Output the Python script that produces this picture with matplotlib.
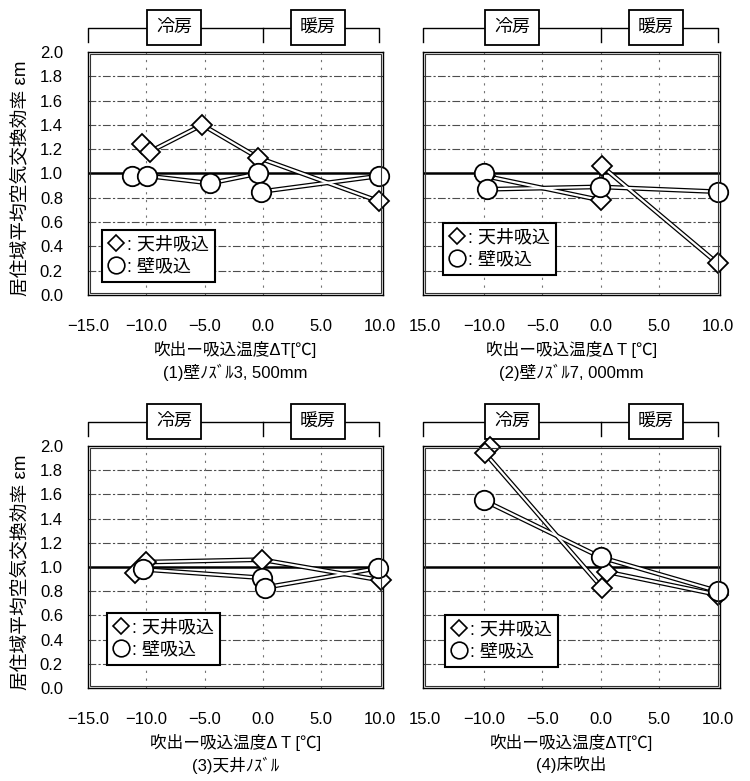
import matplotlib
matplotlib.use("Agg")
import matplotlib.pyplot as plt
from matplotlib.lines import Line2D
from matplotlib.patches import Rectangle
import matplotlib.transforms as mtransforms

plt.rcParams['font.family'] = ['Liberation Sans', 'Noto Sans CJK JP']

# Values (x = ΔT [°C], y = εm)
p1DiaX = [-10.4, -9.7, -5.2, -0.4, 10.0]
p1DiaY = [1.24, 1.18, 1.40, 1.13, 0.77]
p1CirX = [-11.2, -9.9, -4.5, -0.4, -0.2, 10.0]
p1CirY = [0.98, 0.98, 0.92, 1.00, 0.85, 0.98]

p2DiaX = [-9.9, 0.0, 0.1, 10.0]
p2DiaY = [0.98, 0.78, 1.06, 0.26]
p2CirX = [-10.0, -9.7, -0.1, 10.0]
p2CirY = [1.00, 0.87, 0.89, 0.85]

p3DiaX = [-11.0, -10.0, -0.1, 10.1]
p3DiaY = [0.95, 1.04, 1.06, 0.89]
p3CirX = [-10.3, -0.1, 0.2, 9.9]
p3CirY = [0.98, 0.91, 0.83, 0.99]

p4DiaX = [-9.5, -9.9, 0.1, 0.5, 10.0]
p4DiaY = [1.99, 1.94, 0.83, 0.96, 0.77]
p4CirX = [-10.0, 0.0, 10.0]
p4CirY = [1.55, 1.08, 0.80]

xTicks = [-15, -10, -5, 0, 5, 10]
xTickLabelsLeft = ["\u221215.0", "\u221210.0", "\u22125.0", "0.0", "5.0", "10.0"]
xTickLabelsRight = ["15.0", "\u221210.0", "\u22125.0", "0.0", "5.0", "10.0"]
yTicks = [0.0, 0.2, 0.4, 0.6, 0.8, 1.0, 1.2, 1.4, 1.6, 1.8, 2.0]

xLabels = ["吹出ー吸込温度ΔT[℃]", "吹出ー吸込温度Δ T [℃]",
           "吹出ー吸込温度Δ T [℃]", "吹出ー吸込温度ΔT[℃]"]
captions = ["(1)壁ﾉｽﾞﾙ3, 500mm", "(2)壁ﾉｽﾞﾙ7, 000mm", "(3)天井ﾉｽﾞﾙ", "(4)床吹出"]
legendLabels = [": 天井吸込", ": 壁吸込"]
modeLabels = ["冷房", "暖房"]
yLabel = "居住域平均空気交換効率 εm"

fig = plt.figure(figsize=(7.5, 7.81), dpi=100)

rects = [
    [0.1173, 0.6223, 0.3933, 0.3111],
    [0.5640, 0.6223, 0.3960, 0.3111],
    [0.1173, 0.1191, 0.3933, 0.3100],
    [0.5640, 0.1191, 0.3960, 0.3100],
]
xlims = [(-15, 10.3), (-15.2, 10.2), (-15, 10.3), (-15.2, 10.2)]
legendAnchors = [(0.047, 0.053), (0.067, 0.082), (0.064, 0.095), (0.074, 0.087)]

data = [
    (p1DiaX, p1DiaY, p1CirX, p1CirY),
    (p2DiaX, p2DiaY, p2CirX, p2CirY),
    (p3DiaX, p3DiaY, p3CirX, p3CirY),
    (p4DiaX, p4DiaY, p4CirX, p4CirY),
]


def doubleLine(ax, x, y):
    # scanned chart draws hollow "double" connecting lines
    ax.plot(x, y, color="black", linewidth=3.4, zorder=3, solid_capstyle="round")
    ax.plot(x, y, color="white", linewidth=1.6, zorder=4, solid_capstyle="round")


for i, rect in enumerate(rects):
    ax = fig.add_axes(rect)
    dx, dy, cx, cy = data[i]
    isLeft = i % 2 == 0

    ax.set_xlim(*xlims[i])
    ax.set_ylim(0, 2.0)

    # grid: dashed every 0.2, solid reference at 1.0
    for yv in yTicks[1:-1]:
        if abs(yv - 1.0) < 1e-9:
            ax.axhline(yv, color="black", linewidth=1.8, zorder=1)
        else:
            ax.axhline(yv, color="0.3", linewidth=0.8, linestyle=(0, (7, 2, 2, 2)), zorder=1)
    for xv in [-10, -5, 0, 5]:
        ax.axvline(xv, color="0.45", linewidth=0.8, linestyle=(0, (2, 5)), zorder=1)

    doubleLine(ax, dx, dy)
    doubleLine(ax, cx, cy)
    ax.plot(dx, dy, linestyle="none", marker="D", markersize=10, markerfacecolor="white",
            markeredgecolor="black", markeredgewidth=1.3, zorder=5, clip_on=False)
    ax.plot(cx, cy, linestyle="none", marker="o", markersize=14, markerfacecolor="white",
            markeredgecolor="black", markeredgewidth=1.3, zorder=6, clip_on=False)

    ax.set_xticks(xTicks)
    ax.set_xticklabels(xTickLabelsLeft if isLeft else xTickLabelsRight)
    ax.tick_params(axis="x", length=0, pad=17, labelsize=12)
    ax.set_yticks(yTicks)
    if isLeft:
        ax.set_yticklabels([f"{v:.1f}" for v in yTicks])
        ax.tick_params(axis="y", length=0, pad=18, labelsize=12)
        ax.set_ylabel(yLabel, fontsize=13.5, labelpad=2)
        ax.yaxis.set_label_coords(-0.2, 0.48)
    else:
        ax.tick_params(axis="y", length=0, labelleft=False)

    for sp in ax.spines.values():
        sp.set_linewidth(1.0)
        sp.set_color("black")
    # inner frame line (double border in the scan)
    ax.add_patch(Rectangle((0.008, 0.010), 0.984, 0.980, transform=ax.transAxes,
                           fill=False, edgecolor="0.2", linewidth=0.8, zorder=7))

    # x label and caption below
    ax.annotate(xLabels[i], xy=(0.5, 0), xycoords="axes fraction", xytext=(0, -55),
                textcoords="offset pixels", ha="center", va="center", fontsize=12)
    ax.annotate(captions[i], xy=(0.5, 0), xycoords="axes fraction", xytext=(0, -77),
                textcoords="offset pixels", ha="center", va="center", fontsize=12)

    # cooling / heating bracket on top
    trans = mtransforms.blended_transform_factory(ax.transData, ax.transAxes)
    left = xlims[i][0]
    ax.plot([left, left, 10, 10], [1.04, 1.099, 1.099, 1.04], color="black",
            linewidth=1.0, transform=trans, clip_on=False)
    ax.plot([0, 0], [1.099, 1.04], color="black", linewidth=1.0, transform=trans, clip_on=False)
    for lbl, xc in zip(modeLabels, [-7.6, 4.7]):
        ax.text(xc, 1.099, lbl, transform=trans, ha="center", va="center", fontsize=13,
                bbox=dict(boxstyle="square,pad=0.5", facecolor="white", edgecolor="black",
                          linewidth=1.3), clip_on=False)

    handles = [
        Line2D([], [], linestyle="none", marker="D", markersize=8, markerfacecolor="white",
               markeredgecolor="black", markeredgewidth=1.2),
        Line2D([], [], linestyle="none", marker="o", markersize=12, markerfacecolor="white",
               markeredgecolor="black", markeredgewidth=1.2),
    ]
    leg = ax.legend(handles, legendLabels, loc="lower left", bbox_to_anchor=legendAnchors[i],
                    borderaxespad=0, fontsize=13, frameon=True, fancybox=False,
                    handlelength=0.9, handletextpad=0.15, labelspacing=0.3,
                    borderpad=0.35, framealpha=1)
    leg.get_frame().set_edgecolor("black")
    leg.get_frame().set_linewidth(1.5)
    leg.set_zorder(8)

fig.savefig("out.png", dpi=100, facecolor="white")
